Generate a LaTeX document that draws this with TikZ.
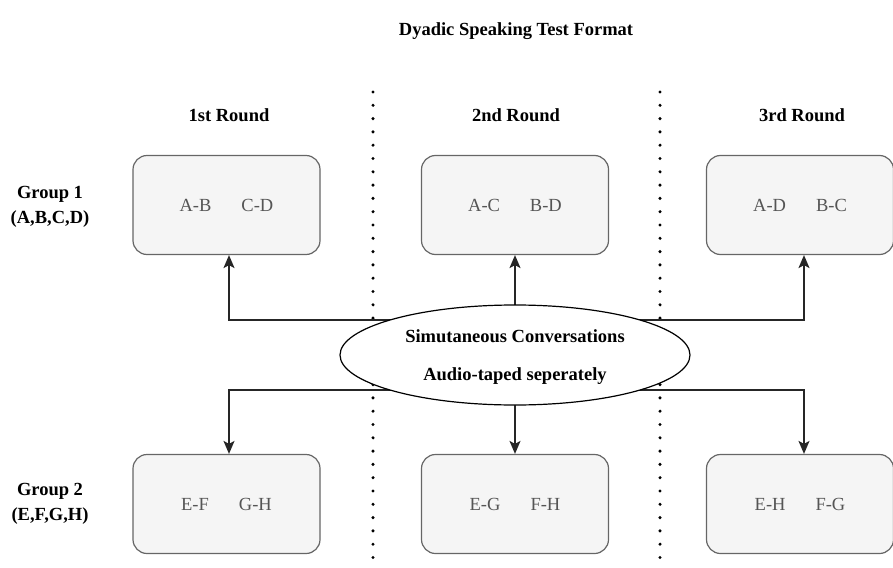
\documentclass[tikz,border=0pt]{standalone}
\usepackage{fontspec}
\setmainfont{Liberation Serif}
\usetikzlibrary{shapes.geometric,arrows.meta}
\definecolor{boxfill}{HTML}{F5F5F5}
\definecolor{boxline}{HTML}{666666}
\definecolor{boxtext}{HTML}{555555}
\begin{document}
\begin{tikzpicture}[x=1pt,y=-1pt,
  pairbox/.style={draw=boxline,line width=1.2pt,fill=boxfill,rounded corners=14pt,
    minimum width=187pt,minimum height=99pt,inner sep=0pt,text=boxtext,
    font=\fontsize{18.5}{22}\selectfont},
  headlbl/.style={font=\bfseries\fontsize{18.5}{22}\selectfont,inner sep=0pt},
  grouplbl/.style={font=\bfseries\fontsize{18.5}{25}\selectfont,align=center,inner sep=0pt},
  conn/.style={draw=black!85,line width=1.6pt},
  arr/.style={conn,-{Stealth[length=13pt,width=11pt,inset=3pt]}},
  divider/.style={line width=3.4pt,dash pattern=on 0pt off 13.3pt,line cap=round}]
\useasboundingbox (0,0) rectangle (893,567);
% title and headers
\node[headlbl] (title) at (516,31) {Dyadic Speaking Test Format};
\node[headlbl] (h1) at (229,115) {1st Round};
\node[headlbl] (h2) at (516,115) {2nd Round};
\node[headlbl] (h3) at (802,115) {3rd Round};
% dividers
\coordinate (d1t) at (373,92); \coordinate (d1b) at (373,565);
\coordinate (d2t) at (660,92); \coordinate (d2b) at (660,565);
\draw[divider] (d1t) -- (d1b);
\draw[divider] (d2t) -- (d2b);
% group labels
\node[grouplbl] (g1) at (50,207) {Group 1\\(A,B,C,D)};
\node[grouplbl] (g2) at (50,504) {Group 2\\(E,F,G,H)};
% boxes
\node[pairbox] (t1) at (226.5,205) {A-B\hspace{30pt}C-D};
\node[pairbox] (t2) at (515,205) {A-C\hspace{30pt}B-D};
\node[pairbox] (t3) at (800,205) {A-D\hspace{30pt}B-C};
\node[pairbox] (b1) at (226.5,504) {E-F\hspace{30pt}G-H};
\node[pairbox] (b2) at (515,504) {E-G\hspace{30pt}F-H};
\node[pairbox] (b3) at (800,504) {E-H\hspace{30pt}F-G};
% ellipse
\coordinate (ec) at (515,355);
\draw[arr] (ec) -- (t2.south);
\draw[arr] (ec) -- (b2.north);
\draw[arr] (ec |- 0,320) -| (t1.south -| 229,0);
\draw[arr] (ec |- 0,320) -| (t3.south -| 804,0);
\draw[arr] (ec |- 0,390) -| (b1.north -| 229,0);
\draw[arr] (ec |- 0,390) -| (b3.north -| 804,0);
\node[ellipse,draw=black,line width=1.2pt,fill=white,minimum width=350pt,minimum height=100pt,
  inner sep=0pt] (ell) at (ec) {};
\node[align=center,inner sep=0pt,font=\bfseries\fontsize{18.5}{38}\selectfont] (elltext)
  at ([yshift=-2pt]ell.center) {Simutaneous Conversations\\Audio-taped seperately};
\end{tikzpicture}
\end{document}
